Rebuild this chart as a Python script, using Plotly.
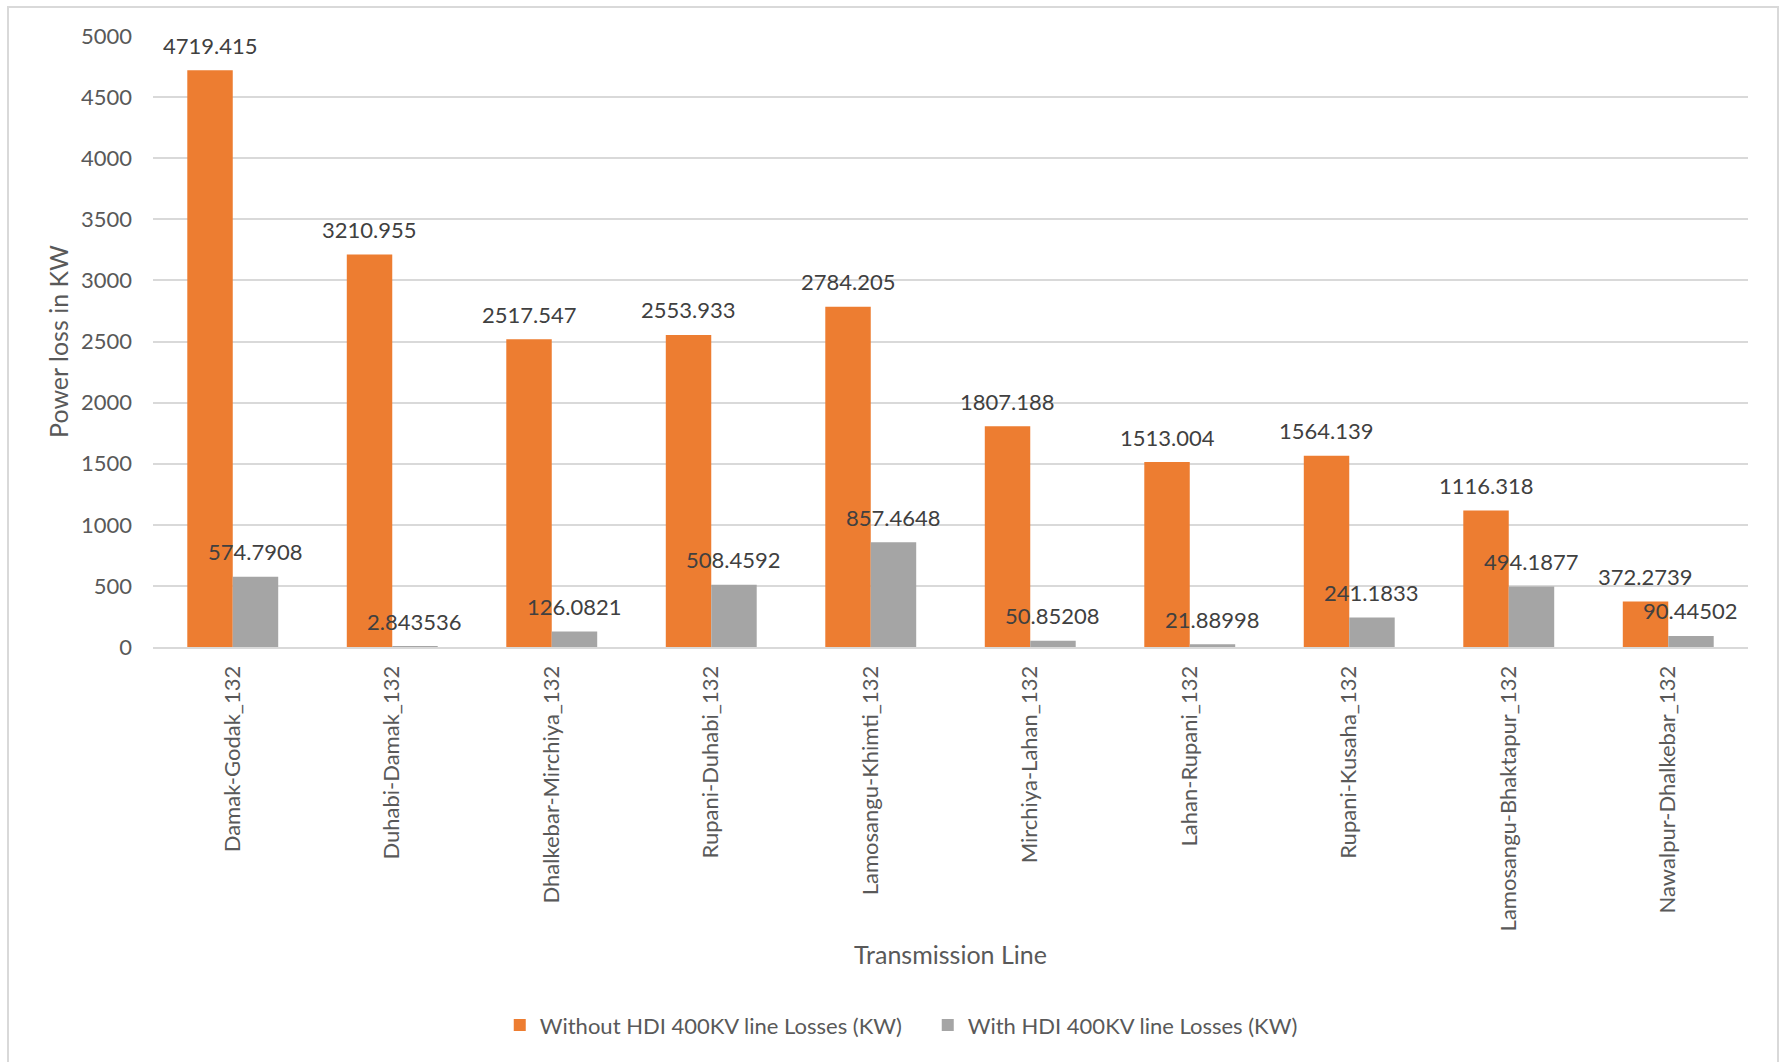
import plotly.graph_objects as go

categories = ["Damak-Godak_132", "Duhabi-Damak_132", "Dhalkebar-Mirchiya_132",
              "Rupani-Duhabi_132", "Lamosangu-Khimti_132", "Mirchiya-Lahan_132",
              "Lahan-Rupani_132", "Rupani-Kusaha_132", "Lamosangu-Bhaktapur_132",
              "Nawalpur-Dhalkebar_132"]
without_hdi = [4719.415, 3210.955, 2517.547, 2553.933, 2784.205, 1807.188,
               1513.004, 1564.139, 1116.318, 372.2739]
with_hdi = [574.7908, 2.843536, 126.0821, 508.4592, 857.4648, 50.85208,
            21.88998, 241.1833, 494.1877, 90.44502]
without_labels = ["4719.415", "3210.955", "2517.547", "2553.933", "2784.205", "1807.188",
                  "1513.004", "1564.139", "1116.318", "372.2739"]
with_labels = ["574.7908", "2.843536", "126.0821", "508.4592", "857.4648", "50.85208",
               "21.88998", "241.1833", "494.1877", "90.44502"]
y_ticks = [0, 500, 1000, 1500, 2000, 2500, 3000, 3500, 4000, 4500, 5000]

FONT = "Lato, Carlito, Calibri, sans-serif"
TXT = "#595959"
LBL = "#404040"
BARGAP = 0.43
PLOT_W = 1787 - 153 - 39
half_bar_px = (1 - BARGAP) / 4 * PLOT_W / len(categories)

fig = go.Figure()
fig.add_trace(go.Bar(x=categories, y=without_hdi, name="Without HDI 400KV line Losses (KW)",
                     marker_color="#ED7D31", marker_line_width=0))
fig.add_trace(go.Bar(x=categories, y=with_hdi, name="With HDI 400KV line Losses (KW)",
                     marker_color="#A5A5A5", marker_line_width=0))

for cat, val, lab in zip(categories, without_hdi, without_labels):
    fig.add_annotation(x=cat, y=val, text=lab, showarrow=False, xshift=-half_bar_px,
                       yshift=25, yanchor="middle",
                       font=dict(size=22, color=LBL, family=FONT))
for cat, val, lab in zip(categories, with_hdi, with_labels):
    fig.add_annotation(x=cat, y=val, text=lab, showarrow=False, xshift=half_bar_px,
                       yshift=25, yanchor="middle",
                       font=dict(size=22, color=LBL, family=FONT))

fig.update_layout(
    width=1787, height=1062,
    margin=dict(l=153, r=39, t=36, b=415),
    paper_bgcolor="white", plot_bgcolor="white",
    barmode="group", bargap=BARGAP, bargroupgap=0,
    font=dict(family=FONT, size=22, color=TXT),
    legend=dict(orientation="h", x=0.2174, xanchor="left", y=-0.619, yanchor="middle",
                font=dict(size=22, color=TXT), traceorder="normal",
                entrywidth=383, entrywidthmode="pixels"),
    xaxis=dict(tickangle=-90, tickfont=dict(size=22, color=TXT), showgrid=False,
               showline=True, linecolor="#d9d9d9", linewidth=2, ticks="",
               ticklabelstandoff=8,
               title=dict(text="Transmission Line", font=dict(size=25, color=TXT), standoff=16)),
    yaxis=dict(range=[0, 5000], tickvals=y_ticks, tickfont=dict(size=22, color=TXT),
               gridcolor="#d9d9d9", gridwidth=2, zeroline=False, showline=False,
               ticks="", ticklabelstandoff=20,
               title=dict(text="Power loss in KW", font=dict(size=25, color=TXT), standoff=5)),
)
fig.add_shape(type="rect", xref="paper", yref="paper", x0=-0.0909, x1=1.0188,
              y0=-0.75, y1=1.0475, line=dict(color="#d9d9d9", width=2), layer="below")

fig.write_html("out.html")
